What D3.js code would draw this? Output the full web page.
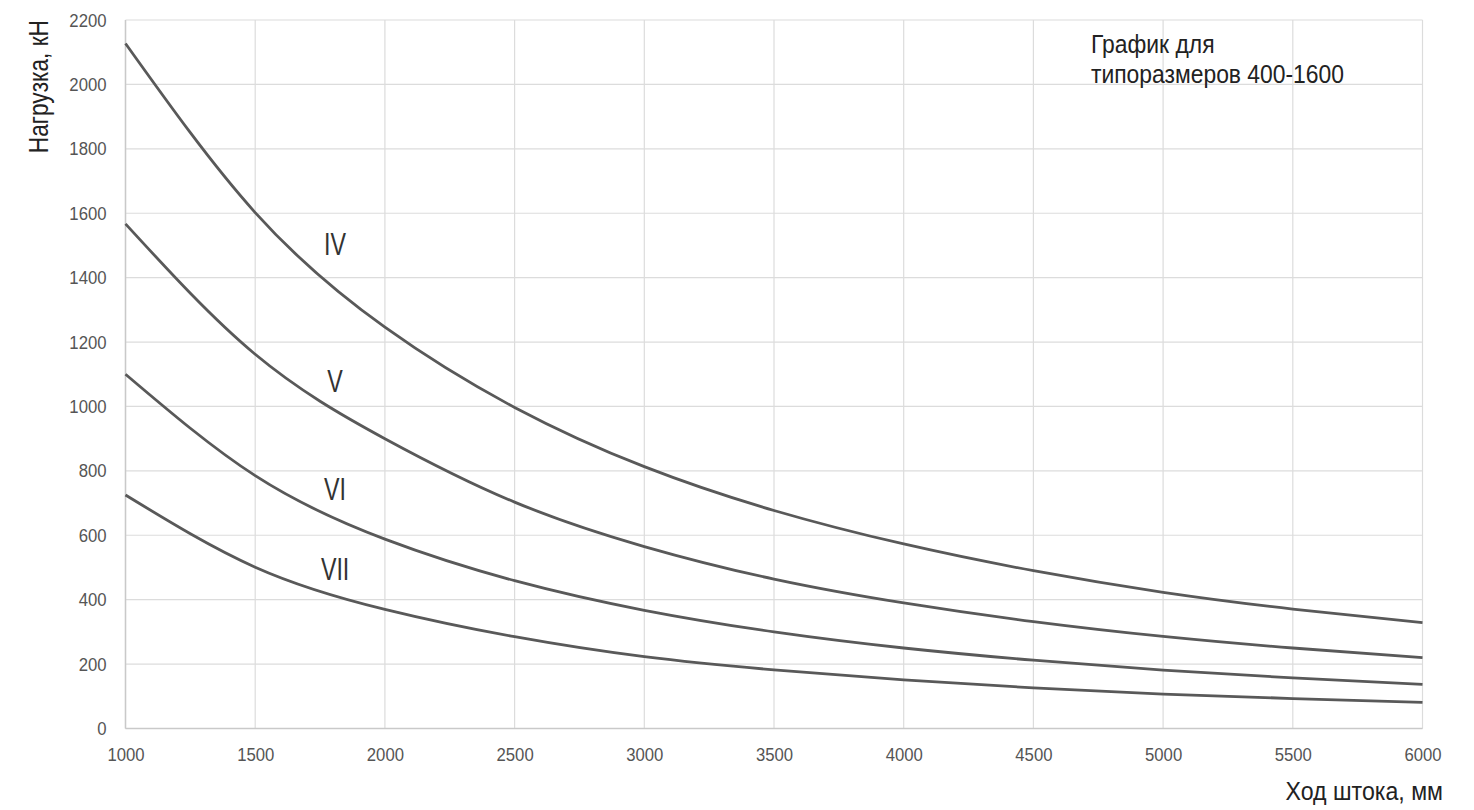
<!DOCTYPE html>
<html>
<head>
<meta charset="utf-8">
<script src="https://cdn.jsdelivr.net/npm/d3@7"></script>
<style>
  html, body { margin: 0; padding: 0; background: #fff; }
  svg { display: block; }
  .narrow { font-family: "Liberation Sans Narrow", "Arial Narrow", "Liberation Sans", Arial, sans-serif; }
</style>
</head>
<body>
<svg id="chart" width="1474" height="810"></svg>
<script>
// Rod stroke (mm) where the load curves are sampled
const strokes = [1000, 1500, 2000, 2500, 3000, 3500, 4000, 4500, 5000, 5500, 6000];

// Permissible load (kN) for each rod size
const loadIV  = [2127, 1602, 1246, 997, 813, 677, 573, 490, 423, 371, 329];
const loadV   = [1567, 1162, 900, 703, 565, 464, 390, 332, 286, 250, 220];
const loadVI  = [1100, 785, 588, 459, 367, 300, 250, 212, 181, 157, 137];
const loadVII = [725, 501, 370, 285, 223, 182, 151, 126, 107, 93, 81];

const seriesNames = ["IV", "V", "VI", "VII"];
const seriesValues = [loadIV, loadV, loadVI, loadVII];

// Where each curve's name sits (stroke, load)
const labelStroke = [1808, 1808, 1808, 1808];
const labelLoad = [1470, 1045, 709, 461];

const xTicks = [1000, 1500, 2000, 2500, 3000, 3500, 4000, 4500, 5000, 5500, 6000];
const yTicks = [0, 200, 400, 600, 800, 1000, 1200, 1400, 1600, 1800, 2000, 2200];

const xTitle = "Ход штока, мм";
const yTitle = "Нагрузка, кН";
const noteLines = ["График для", "типоразмеров 400-1600"];

const svg = d3.select("#chart");
const plotLeft = 125.5, plotRight = 1422.5, plotTop = 20, plotBottom = 728.5;

const x = d3.scaleLinear().domain([1000, 6000]).range([plotLeft, plotRight]);
const y = d3.scaleLinear().domain([0, 2200]).range([plotBottom, plotTop]);

// Horizontally condensed text, anchored at (px, py)
function condensed(sel, px, py, sx) {
  return sel.attr("x", 0).attr("y", 0)
    .attr("transform", `translate(${px},${py}) scale(${sx},1)`);
}

// grid
const grid = svg.append("g");
grid.selectAll("line.v").data(xTicks).join("line").attr("class", "v")
  .attr("x1", d => x(d)).attr("x2", d => x(d))
  .attr("y1", plotTop).attr("y2", plotBottom)
  .attr("stroke", "#dcdcdc").attr("stroke-width", 1.2);
grid.selectAll("line.h").data(yTicks).join("line").attr("class", "h")
  .attr("x1", plotLeft).attr("x2", plotRight)
  .attr("y1", d => y(d)).attr("y2", d => y(d))
  .attr("stroke", "#dcdcdc").attr("stroke-width", 1.2);

// frame lines on the left and bottom
svg.append("line").attr("x1", plotLeft).attr("x2", plotLeft).attr("y1", plotTop).attr("y2", plotBottom)
  .attr("stroke", "#c9c9c9").attr("stroke-width", 1.5);
svg.append("line").attr("x1", plotLeft).attr("x2", plotRight).attr("y1", plotBottom).attr("y2", plotBottom)
  .attr("stroke", "#c9c9c9").attr("stroke-width", 1.5);

// axes (labels only)
const tickScale = 0.88;
const xAxis = svg.append("g")
  .attr("transform", `translate(0,${plotBottom})`)
  .call(d3.axisBottom(x).tickValues(xTicks).tickSize(0).tickPadding(19).tickFormat(d3.format("d")));
const yAxis = svg.append("g")
  .attr("transform", `translate(${plotLeft},0)`)
  .call(d3.axisLeft(y).tickValues(yTicks).tickSize(0).tickPadding(19).tickFormat(d3.format("d")));
[xAxis, yAxis].forEach(a => {
  a.select(".domain").remove();
  a.selectAll("text").each(function () {
    const t = d3.select(this);
    const tx = +t.attr("x") || 0;
    t.attr("x", tx / tickScale).attr("transform", `scale(${tickScale},1)`);
  })
  .attr("class", "narrow")
  .style("font-size", "19px").attr("fill", "#555");
});

// curves (evenly spaced samples, smooth natural spline)
const line = d3.line()
  .x((d, i) => x(strokes[i]))
  .y(d => y(d))
  .curve(d3.curveNatural);

svg.append("g").selectAll("path").data(seriesValues).join("path")
  .attr("d", d => line(d))
  .attr("fill", "none")
  .attr("stroke", "#595959")
  .attr("stroke-width", 2.8)
  .attr("stroke-linejoin", "round");

// curve names
svg.append("g").selectAll("text").data(seriesNames).join("text")
  .attr("class", "narrow")
  .each(function (d, i) {
    condensed(d3.select(this), x(labelStroke[i]), y(labelLoad[i]), 0.75);
  })
  .attr("text-anchor", "middle")
  .style("font-size", "31px")
  .attr("fill", "#333")
  .text(d => d);

// axis titles
condensed(svg.append("text").attr("class", "narrow"), 1443, 800, 0.89)
  .attr("text-anchor", "end")
  .style("font-size", "26px").attr("fill", "#222")
  .text(xTitle);

svg.append("text").attr("class", "narrow")
  .attr("transform", "translate(48,20) rotate(-90) scale(0.84,1)")
  .attr("text-anchor", "end")
  .style("font-size", "27px").attr("fill", "#222")
  .text(yTitle);

// note in the upper right
const note = condensed(svg.append("text").attr("class", "narrow"), 1091, 53, 0.88)
  .style("font-size", "26px").attr("fill", "#222");
note.selectAll("tspan").data(noteLines).join("tspan")
  .attr("x", 0)
  .attr("y", (d, i) => i * 30)
  .text(d => d);
</script>
</body>
</html>
